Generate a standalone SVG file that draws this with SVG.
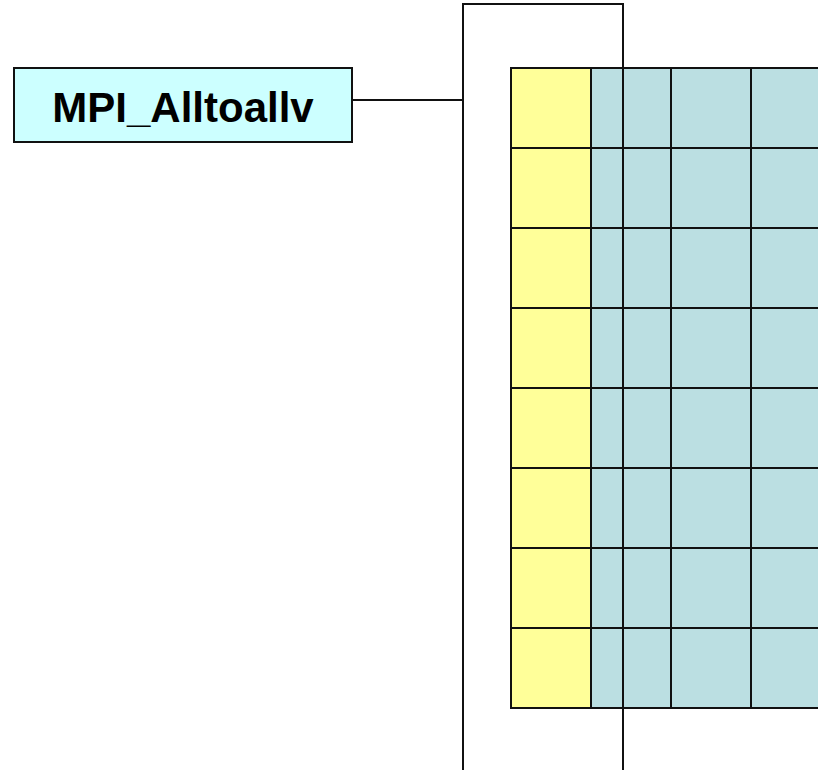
<svg xmlns="http://www.w3.org/2000/svg" width="818" height="770" viewBox="0 0 818 770">
<style>
.ln{stroke:#111;stroke-width:2;fill:none}
.y{fill:#FFFF99;stroke:#111;stroke-width:2}
.b{fill:#BBDFE2;stroke:#111;stroke-width:2}
.lbl{font-family:"Liberation Sans",Arial,sans-serif;font-weight:bold;font-size:42px;fill:#000}
</style>
<rect width="818" height="770" fill="#fff"/>
<g id="grid">
<rect class="b" x="591" y="68" width="240" height="640"/>
<rect class="y" x="511" y="68" width="80" height="640"/>
<path class="ln" d="M511 148H818M511 228H818M511 308H818M511 388H818M511 468H818M511 548H818M511 628H818M671 68V708M751 68V708"/>
</g>
<g id="label">
<rect x="14" y="68" width="338" height="74" fill="#CCFFFF" stroke="#111" stroke-width="2"/>
<text class="lbl" x="183" y="122" text-anchor="middle">MPI_Alltoallv</text>
</g>
<g id="connectors">
<path class="ln" d="M352 100H463"/>
<path class="ln" d="M463 770V4H623V770"/>
</g>
</svg>
